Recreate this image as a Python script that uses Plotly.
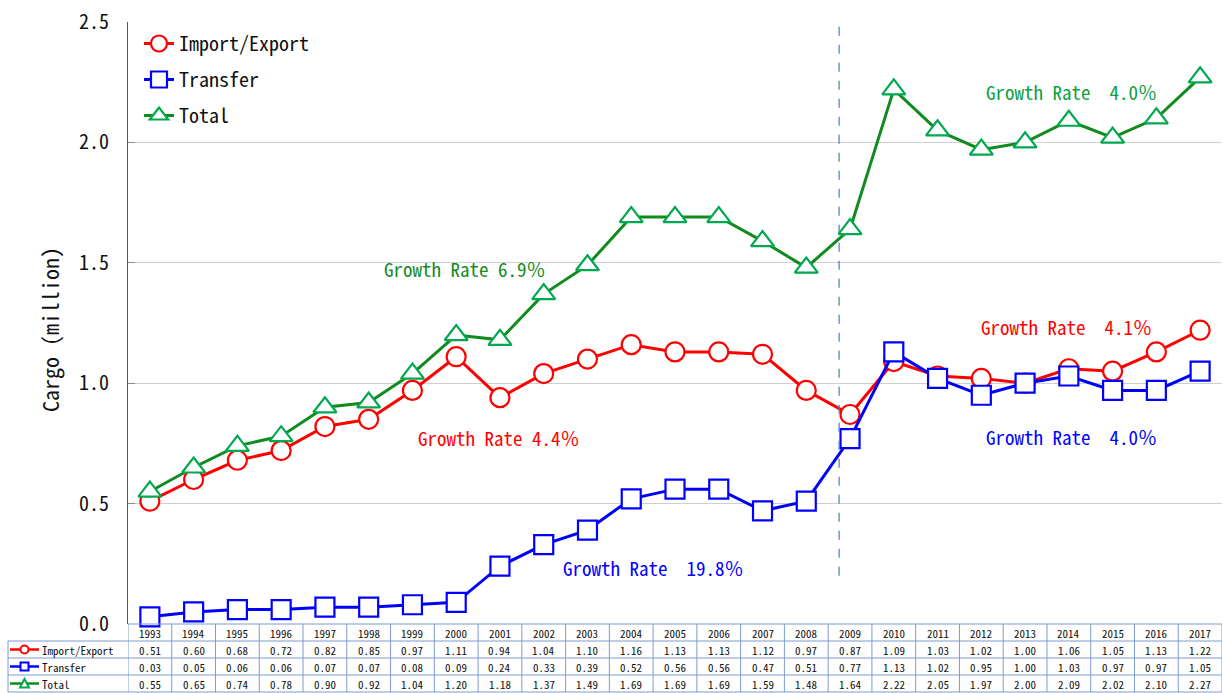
import plotly.graph_objects as go

years = [str(y) for y in range(1993, 2018)]
import_export = [0.51, 0.60, 0.68, 0.72, 0.82, 0.85, 0.97, 1.11, 0.94, 1.04, 1.10, 1.16, 1.13, 1.13, 1.12,
                 0.97, 0.87, 1.09, 1.03, 1.02, 1.00, 1.06, 1.05, 1.13, 1.22]
transfer = [0.03, 0.05, 0.06, 0.06, 0.07, 0.07, 0.08, 0.09, 0.24, 0.33, 0.39, 0.52, 0.56, 0.56, 0.47,
            0.51, 0.77, 1.13, 1.02, 0.95, 1.00, 1.03, 0.97, 0.97, 1.05]
total = [0.55, 0.65, 0.74, 0.78, 0.90, 0.92, 1.04, 1.20, 1.18, 1.37, 1.49, 1.69, 1.69, 1.69, 1.59,
         1.48, 1.64, 2.22, 2.05, 1.97, 2.00, 2.09, 2.02, 2.10, 2.27]
series_names = ["Import/Export", "Transfer", "Total"]
y_ticks = [0.0, 0.5, 1.0, 1.5, 2.0, 2.5]

RED = "#FF0000"
BLUE = "#0000FF"
GREEN_LINE = "#118A1E"
GREEN_MK = "#00A84F"
FONT = "Noto Sans Mono CJK JP"
W, H = 1223, 693
TABLE_LINE = "#7C9CD0"


def px(x):
    return x / W


def py(y):
    return 1 - y / H


fig = go.Figure()

styles = [
    (import_export, RED, RED, "circle", 19),
    (transfer, BLUE, BLUE, "square", 19),
    (total, GREEN_LINE, GREEN_MK, "triangle-up", 20),
]
for i, (vals, lc, mc, sym, sz) in enumerate(styles):
    fig.add_trace(go.Scatter(
        x=years, y=vals, name=series_names[i], mode="lines+markers",
        line=dict(color=lc, width=3),
        marker=dict(symbol=sym, size=sz, color="white", line=dict(color=mc, width=2.2)),
        legendgroup=str(i), cliponaxis=False,
    ))

shapes = []
annotations = []


def label(x, y, text, size, color, xref="paper", xanchor="center", angle=0):
    annotations.append(dict(x=x, y=y, xref=xref, yref="paper", text=text, showarrow=False,
                            xanchor=xanchor, yanchor="middle", textangle=angle,
                            font=dict(size=size, color=color, family=FONT)))


# Table grid
for yy in [641, 658, 675, 692]:
    shapes.append(dict(type="line", xref="paper", yref="paper", x0=px(8), x1=px(1222), y0=py(yy), y1=py(yy),
                       line=dict(color=TABLE_LINE, width=1)))
shapes.append(dict(type="line", xref="paper", yref="paper", x0=px(8), x1=px(8), y0=py(641), y1=py(692),
                   line=dict(color=TABLE_LINE, width=1)))
for k in range(len(years) + 1):
    shapes.append(dict(type="line", xref="x", yref="paper", x0=k - 0.5, x1=k - 0.5, y0=py(624), y1=py(692),
                       line=dict(color=TABLE_LINE, width=1)))
shapes.append(dict(type="line", xref="paper", yref="paper", x0=px(128), x1=px(1222), y0=py(624), y1=py(624),
                   line=dict(color=TABLE_LINE, width=1)))

row_y = [649.5, 666.5, 683.5]
for k, yr in enumerate(years):
    label(k, py(633), yr, 11, "#111", xref="x")
    for r, vals in enumerate([import_export, transfer, total]):
        label(k, py(row_y[r]), f"{vals[k]:.2f}", 11, "#111", xref="x")
for r, nm in enumerate(series_names):
    label(px(40), py(row_y[r]), nm, 11, "#111", xanchor="left")

# keys in table left column
for r, (vals, lc, mc, sym, sz) in enumerate(styles):
    yy = row_y[r]
    shapes.append(dict(type="line", xref="paper", yref="paper", x0=px(10), x1=px(39), y0=py(yy), y1=py(yy),
                       line=dict(color=lc, width=2.5)))
    if sym == "circle":
        shapes.append(dict(type="circle", xref="paper", yref="paper", x0=px(20.5), x1=px(28.5),
                           y0=py(yy + 4), y1=py(yy - 4), fillcolor="white", line=dict(color=mc, width=2)))
    elif sym == "square":
        shapes.append(dict(type="rect", xref="paper", yref="paper", x0=px(20.5), x1=px(28.5),
                           y0=py(yy + 4), y1=py(yy - 4), fillcolor="white", line=dict(color=mc, width=2)))
    else:
        path = f"M {px(20)} {py(yy + 4)} L {px(29)} {py(yy + 4)} L {px(24.5)} {py(yy - 4.5)} Z"
        shapes.append(dict(type="path", xref="paper", yref="paper", path=path, fillcolor="white",
                           line=dict(color=mc, width=2)))

# dashed separator
shapes.append(dict(type="line", xref="x", yref="y", x0=15.75, x1=15.75, y0=0.2, y1=2.5,
                   line=dict(color="#4A78C8", width=1.2, dash="dash")))

growth_labels = [
    ("Growth Rate 6.9％", 465, 268, "#178A1E"),
    ("Growth Rate 4.4％", 499, 437, RED),
    ("Growth Rate  19.8％", 654, 567, BLUE),
    ("Growth Rate  4.0％", 1071, 92, "#0FA040"),
    ("Growth Rate  4.1％", 1066, 326, RED),
    ("Growth Rate  4.0％", 1071, 436, BLUE),
]
for txt, x_, y_, col in growth_labels:
    label(px(x_), py(y_), txt, 19, col)

label(px(49), py(330), "Cargo (million)", 22, "#111", angle=-90)

fig.update_layout(
    width=W, height=H, margin=dict(l=0, r=0, t=0, b=0, autoexpand=False),
    paper_bgcolor="white", plot_bgcolor="white",
    font=dict(family=FONT, color="#111"),
    xaxis=dict(domain=[128 / W, 1222 / W], type="category", range=[-0.5, 24.5], automargin=False,
               showticklabels=False, showgrid=False, zeroline=False, ticks="", showline=False),
    yaxis=dict(domain=[(H - 624) / H, (H - 22) / H], range=[0, 2.5], tickvals=y_ticks, automargin=False,
               tickformat=".1f", showgrid=True, gridcolor="#CFCFCF", gridwidth=1,
               zeroline=False, showline=True, linecolor="#555", linewidth=1.2,
               ticks="inside", ticklen=7, tickcolor="#888",
               tickfont=dict(size=20, family=FONT, color="#111"), ticklabelstandoff=14),
    legend=dict(x=139 / W, y=(H - 24) / H, xanchor="left", yanchor="top",
                font=dict(size=20, family=FONT, color="#111"), bgcolor="rgba(0,0,0,0)",
                tracegroupgap=7, itemwidth=30),
    shapes=shapes, annotations=annotations, showlegend=True,
)

fig.write_html("out.html", config={"displayModeBar": False},
               post_script="document.body.style.margin='0px';")
